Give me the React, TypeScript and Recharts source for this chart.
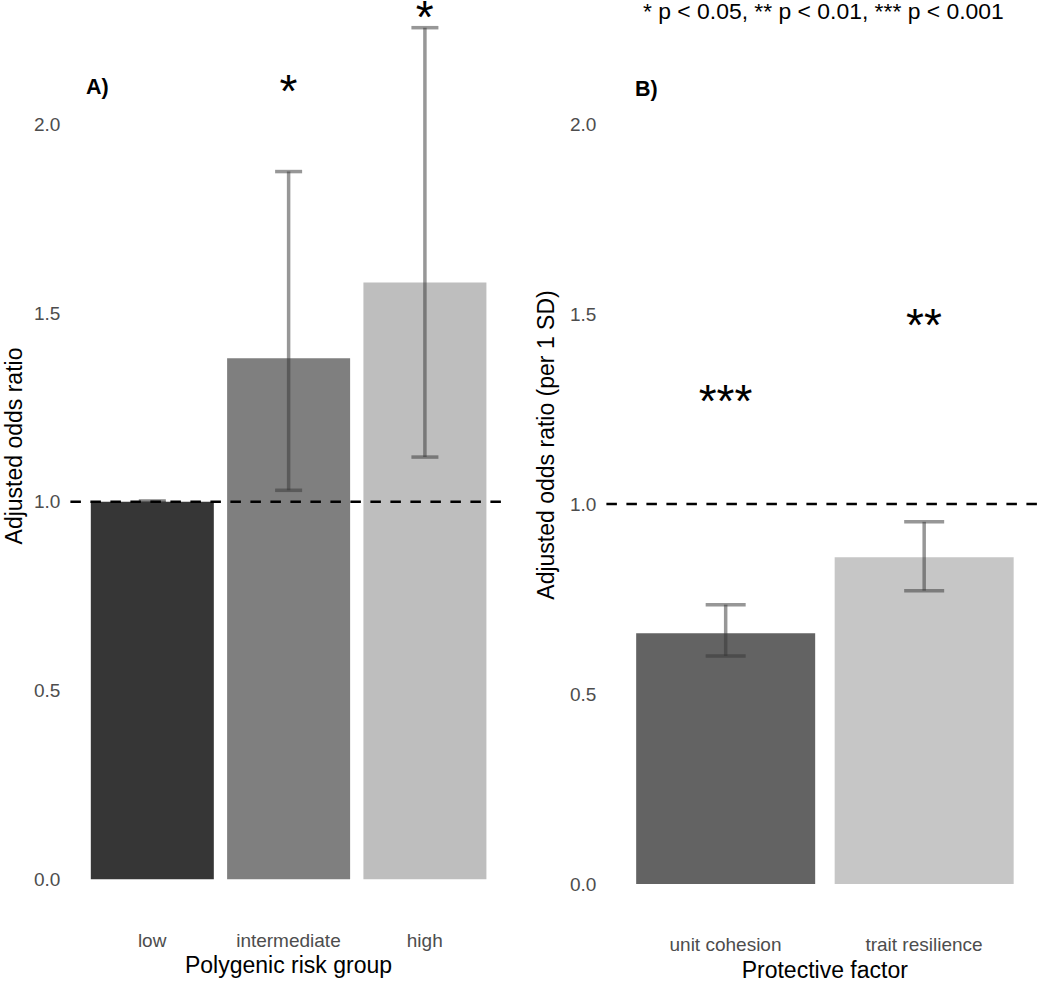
import React from "react";
import {
  ComposedChart,
  Bar,
  Line,
  XAxis,
  YAxis,
  ReferenceLine,
  ErrorBar,
  Cell,
  LabelList,
} from "recharts";

// Panel A: polygenic risk group
const riskGroups = ["low", "intermediate", "high"];
const riskOR = [1.0, 1.38, 1.58];
const riskLower = [0.998, 1.03, 1.118];
const riskUpper = [1.002, 1.874, 2.255];
const riskStars = ["", "*", "*"];
const riskStarY = [null, 2.102, 2.3];
const riskColors = ["#363636", "#7f7f7f", "#bebebe"];

// Panel B: protective factors
const factors = ["unit cohesion", "trait resilience"];
const factorOR = [0.66, 0.86];
const factorLower = [0.6, 0.772];
const factorUpper = [0.735, 0.953];
const factorStars = ["***", "**"];
const factorStarY = [1.287, 1.486];
const factorColors = ["#636363", "#c6c6c6"];

const yTicks = [0, 0.5, 1, 1.5, 2];

const FONT = "'Liberation Sans', Arial, Helvetica, sans-serif";
const ERR_COLOR = "rgba(55,55,55,0.52)";

const riskData = riskGroups.map((g, i) => ({
  name: g,
  or: riskOR[i],
  err: [riskOR[i] - riskLower[i], riskUpper[i] - riskOR[i]],
  starY: riskStarY[i],
  stars: riskStars[i],
}));

const factorData = factors.map((f, i) => ({
  name: f,
  or: factorOR[i],
  err: [factorOR[i] - factorLower[i], factorUpper[i] - factorOR[i]],
  starY: factorStarY[i],
  stars: factorStars[i],
}));

// asterisk glyph sits high in the em box, shift baseline so the glyph centre lands on the value
const renderStar = (props: any) => {
  const { x, y, value } = props;
  if (!value || y == null || isNaN(y)) return null;
  return (
    <text
      x={x}
      y={y + 22}
      textAnchor="middle"
      fontSize={46}
      fill="#000"
      fontFamily={FONT}
    >
      {value}
    </text>
  );
};

interface PanelProps {
  data: any[];
  colors: string[];
  domain: [number, number];
  xAxisHeight: number;
  yAxisWidth: number;
  marginRight: number;
  xPad: number;
  xTickMargin: number;
  capHalf: number;
  children?: React.ReactNode;
}

function Panel({
  data,
  colors,
  domain,
  xAxisHeight,
  yAxisWidth,
  marginRight,
  xPad,
  xTickMargin,
  capHalf,
  children,
}: PanelProps) {
  return (
    <ComposedChart
      width={525}
      height={981}
      data={data}
      margin={{ top: 0, right: marginRight, bottom: 0, left: 0 }}
      barCategoryGap="5%"
    >
      <XAxis
        dataKey="name"
        axisLine={false}
        tickLine={false}
        tickSize={0}
        tickMargin={xTickMargin}
        height={xAxisHeight}
        padding={{ left: xPad, right: xPad }}
        tick={{ fill: "#4d4d4d", fontSize: 19, fontFamily: FONT }}
        interval={0}
      />
      <YAxis
        type="number"
        domain={domain}
        allowDataOverflow
        ticks={yTicks}
        tickFormatter={(v: number) => v.toFixed(1)}
        axisLine={false}
        tickLine={false}
        tickSize={0}
        tickMargin={10}
        width={yAxisWidth}
        tick={{ fill: "#4d4d4d", fontSize: 19, fontFamily: FONT }}
      />
      <Bar dataKey="or" isAnimationActive={false}>
        {data.map((d, i) => (
          <Cell key={d.name} fill={colors[i]} />
        ))}
        <ErrorBar
          dataKey="err"
          width={capHalf}
          stroke={ERR_COLOR}
          strokeWidth={3.5}
          direction="y"
        />
      </Bar>
      <ReferenceLine
        y={1}
        stroke="#000"
        strokeWidth={2.5}
        strokeDasharray="10.5 9.5"
      />
      <Line
        dataKey="starY"
        stroke="none"
        dot={false}
        activeDot={false}
        legendType="none"
        isAnimationActive={false}
      >
        <LabelList dataKey="stars" content={renderStar} />
      </Line>
      {children}
    </ComposedChart>
  );
}

export default function App() {
  return (
    <div
      style={{
        position: "absolute",
        left: 0,
        top: 0,
        width: 1050,
        height: 981,
        background: "#fff",
        display: "flex",
      }}
    >
      <Panel
        data={riskData}
        colors={riskColors}
        domain={[-0.1131, 2.3283]}
        xAxisHeight={59}
        yAxisWidth={70.4}
        marginRight={18.5}
        xPad={13.6}
        xTickMargin={11.5}
        capHalf={13.5}
      >
        <text x={86} y={94} fontSize={21.5} fontWeight="bold" fontFamily={FONT} fill="#000">
          A)
        </text>
        <text
          transform="translate(14, 446) rotate(-90)"
          textAnchor="middle"
          dominantBaseline="central"
          fontSize={23}
          fontFamily={FONT}
          fill="#000"
        >
          Adjusted odds ratio
        </text>
        <text x={288.5} y={973} textAnchor="middle" fontSize={23} fontFamily={FONT} fill="#000">
          Polygenic risk group
        </text>
      </Panel>
      <Panel
        data={factorData}
        colors={factorColors}
        domain={[-0.1158, 2.3263]}
        xAxisHeight={53}
        yAxisWidth={81.4}
        marginRight={6.9}
        xPad={19.85}
        xTickMargin={10}
        capHalf={20}
      >
        <text x={110} y={96} fontSize={21.5} fontWeight="bold" fontFamily={FONT} fill="#000">
          B)
        </text>
        <text x={118} y={18.5} fontSize={22.9} fontFamily={FONT} fill="#000">
          * p &lt; 0.05, ** p &lt; 0.01, *** p &lt; 0.001
        </text>
        <text
          transform="translate(20.6, 445) rotate(-90)"
          textAnchor="middle"
          dominantBaseline="central"
          fontSize={23}
          fontFamily={FONT}
          fill="#000"
        >
          Adjusted odds ratio (per 1 SD)
        </text>
        <text x={299.75} y={977.5} textAnchor="middle" fontSize={23} fontFamily={FONT} fill="#000">
          Protective factor
        </text>
      </Panel>
    </div>
  );
}
